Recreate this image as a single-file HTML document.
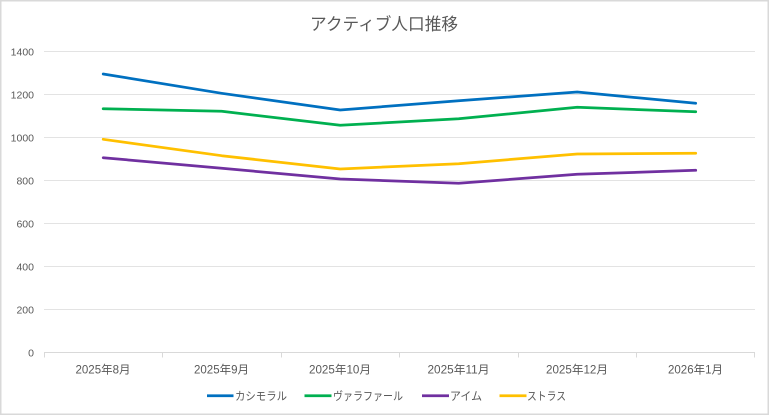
<!DOCTYPE html>
<html>
<head>
<meta charset="utf-8">
<style>
html,body{margin:0;padding:0;background:#fff;}
svg{display:block;}
text{font-family:"Liberation Sans","Noto Sans CJK JP",sans-serif;fill:#595959;}
</style>
</head>
<body>
<svg width="770" height="416" viewBox="0 0 770 416" xmlns="http://www.w3.org/2000/svg">
  <rect x="0" y="0" width="770" height="416" fill="#fff"/>
  <rect x="0.75" y="0.75" width="767.5" height="413.5" fill="none" stroke="#d9d9d9" stroke-width="1.5"/>

  <!-- title -->
  <text x="384" y="30" font-size="17" text-anchor="middle" textLength="148" lengthAdjust="spacingAndGlyphs">アクティブ人口推移</text>

  <!-- gridlines -->
  <g stroke="#e3e3e3" stroke-width="1">
    <line x1="44" x2="755" y1="51.5" y2="51.5"/>
    <line x1="44" x2="755" y1="94.5" y2="94.5"/>
    <line x1="44" x2="755" y1="137.5" y2="137.5"/>
    <line x1="44" x2="755" y1="180.5" y2="180.5"/>
    <line x1="44" x2="755" y1="223.5" y2="223.5"/>
    <line x1="44" x2="755" y1="266.5" y2="266.5"/>
    <line x1="44" x2="755" y1="309.5" y2="309.5"/>
  </g>
  <!-- x axis -->
  <g stroke="#d9d9d9" stroke-width="1">
    <line x1="44" x2="755" y1="352.5" y2="352.5"/>
    <line x1="44.5" x2="44.5" y1="352.5" y2="357.5"/>
    <line x1="162.5" x2="162.5" y1="352.5" y2="357.5"/>
    <line x1="281.5" x2="281.5" y1="352.5" y2="357.5"/>
    <line x1="399.5" x2="399.5" y1="352.5" y2="357.5"/>
    <line x1="518.5" x2="518.5" y1="352.5" y2="357.5"/>
    <line x1="636.5" x2="636.5" y1="352.5" y2="357.5"/>
    <line x1="754.5" x2="754.5" y1="352.5" y2="357.5"/>
  </g>

  <!-- y labels -->
  <g font-size="10.5" text-anchor="end">
    <text x="34" y="55.5">1400</text>
    <text x="34" y="98.5">1200</text>
    <text x="34" y="141.5">1000</text>
    <text x="34" y="184.5">800</text>
    <text x="34" y="227.5">600</text>
    <text x="34" y="270.5">400</text>
    <text x="34" y="313.5">200</text>
    <text x="34" y="356.5">0</text>
  </g>

  <!-- x labels -->
  <g font-size="11.5" text-anchor="middle">
    <text x="103" y="373.5" textLength="55" lengthAdjust="spacingAndGlyphs">2025年8月</text>
    <text x="221.5" y="373.5" textLength="55" lengthAdjust="spacingAndGlyphs">2025年9月</text>
    <text x="340" y="373.5" textLength="62" lengthAdjust="spacingAndGlyphs">2025年10月</text>
    <text x="458.5" y="373.5" textLength="62" lengthAdjust="spacingAndGlyphs">2025年11月</text>
    <text x="577" y="373.5" textLength="62" lengthAdjust="spacingAndGlyphs">2025年12月</text>
    <text x="695.5" y="373.5" textLength="55" lengthAdjust="spacingAndGlyphs">2026年1月</text>
  </g>

  <!-- series -->
  <g fill="none" stroke-width="2.75" stroke-linejoin="round" stroke-linecap="round">
    <polyline stroke="#0070C0" points="103.2,74 221.7,93.3 340.2,110 458.7,100.7 577.2,92 695.7,103.3"/>
    <polyline stroke="#00B050" points="103.2,108.7 221.7,111.3 340.2,125.3 458.7,118.7 577.2,107.3 695.7,111.7"/>
    <polyline stroke="#7030A0" points="103.2,157.7 221.7,168.3 340.2,179 458.7,183.3 577.2,174.3 695.7,170.3"/>
    <polyline stroke="#FFC000" points="103.2,139.3 221.7,155.7 340.2,169 458.7,163.7 577.2,154 695.7,153.3"/>
  </g>

  <!-- legend -->
  <g stroke-width="2.75">
    <line x1="207" x2="233.5" y1="395.7" y2="395.7" stroke="#0070C0"/>
    <line x1="304.5" x2="331.5" y1="395.7" y2="395.7" stroke="#00B050"/>
    <line x1="422" x2="449" y1="395.7" y2="395.7" stroke="#7030A0"/>
    <line x1="499.5" x2="526.5" y1="395.7" y2="395.7" stroke="#FFC000"/>
  </g>
  <g font-size="11.5">
    <text x="235" y="400" textLength="52" lengthAdjust="spacingAndGlyphs">カシモラル</text>
    <text x="333" y="400" textLength="70" lengthAdjust="spacingAndGlyphs">ヴァラファール</text>
    <text x="450" y="400" textLength="32" lengthAdjust="spacingAndGlyphs">アイム</text>
    <text x="527" y="400" textLength="39" lengthAdjust="spacingAndGlyphs">ストラス</text>
  </g>
</svg>
</body>
</html>
